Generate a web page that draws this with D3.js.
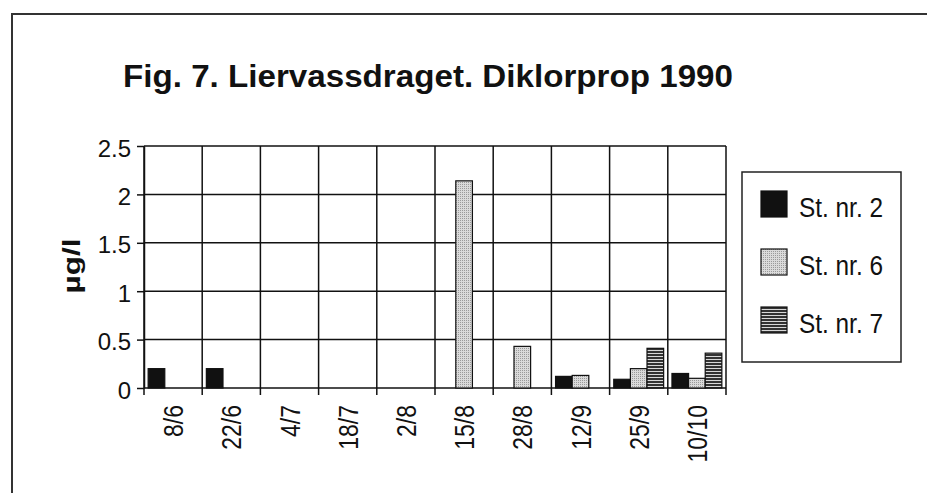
<!DOCTYPE html>
<html>
<head>
<meta charset="utf-8">
<script src="https://cdnjs.cloudflare.com/ajax/libs/d3/7.8.5/d3.min.js"></script>
<style>
  body { margin: 0; background: #fff; }
  text { font-family: "Liberation Sans", Arial, sans-serif; fill: #111; }
</style>
</head>
<body>
<div id="chart"></div>
<script>
var width = 927,
    height = 493;

// data
var dates = ["8/6", "22/6", "4/7", "18/7", "2/8", "15/8", "28/8", "12/9", "25/9", "10/10"];
var stations = ["St. nr. 2", "St. nr. 6", "St. nr. 7"];
var st2 = [0.2, 0.2, null, null, null, null, null, 0.12, 0.09, 0.15];
var st6 = [null, null, null, null, null, 2.14, 0.43, 0.13, 0.2, 0.1];
var st7 = [null, null, null, null, null, null, null, null, 0.41, 0.36];
var yTicks = [0, 0.5, 1, 1.5, 2, 2.5];

var series = [st2, st6, st7];

var svg = d3.select("#chart").append("svg")
    .attr("width", width)
    .attr("height", height);

// fills
var defs = svg.append("defs");
var p6 = defs.append("pattern").attr("id", "dots")
    .attr("width", 2).attr("height", 2)
    .attr("patternUnits", "userSpaceOnUse");
p6.append("rect").attr("width", 2).attr("height", 2).attr("fill", "#dadada");
p6.append("rect").attr("width", 1).attr("height", 1).attr("fill", "#9a9a9a");
var p7 = defs.append("pattern").attr("id", "stripes")
    .attr("width", 4).attr("height", 3)
    .attr("patternUnits", "userSpaceOnUse");
p7.append("rect").attr("width", 4).attr("height", 3).attr("fill", "#333");
p7.append("rect").attr("y", 2).attr("width", 4).attr("height", 1).attr("fill", "#d8d8d8");
var fills = ["#111", "url(#dots)", "url(#stripes)"];

// outer frame
svg.append("path")
    .attr("d", "M12,493 L12,14 L927,14")
    .attr("fill", "none")
    .attr("stroke", "#333")
    .attr("stroke-width", 2);

// title
svg.append("text")
    .attr("x", 123)
    .attr("y", 87)
    .attr("font-size", 31)
    .attr("font-weight", "bold")
    .attr("textLength", 610)
    .attr("lengthAdjust", "spacingAndGlyphs")
    .text("Fig. 7. Liervassdraget. Diklorprop 1990");

var plotLeft = 144, plotRight = 726, plotTop = 146, plotBottom = 388;

var x = d3.scaleBand()
    .domain(dates)
    .range([plotLeft, plotRight])
    .padding(0);
var x1 = d3.scaleBand()
    .domain(d3.range(series.length))
    .range([0, x.bandwidth()])
    .paddingInner(0)
    .paddingOuter(0.25);
var y = d3.scaleLinear()
    .domain([0, 2.5])
    .range([plotBottom, plotTop]);

// horizontal grid
svg.selectAll(".hgrid")
    .data(yTicks)
    .enter().append("line")
    .attr("x1", plotLeft)
    .attr("x2", plotRight)
    .attr("y1", function (d) { return y(d); })
    .attr("y2", function (d) { return y(d); })
    .attr("stroke", "#111")
    .attr("stroke-width", 1.5);

// vertical grid + ticks at category boundaries
var bounds = dates.map(function (d) { return x(d); }).concat([plotRight]);
svg.selectAll(".vgrid")
    .data(bounds)
    .enter().append("line")
    .attr("x1", function (d) { return d; })
    .attr("x2", function (d) { return d; })
    .attr("y1", plotTop)
    .attr("y2", plotBottom + 7)
    .attr("stroke", "#111")
    .attr("stroke-width", 1.5);

// y axis
var yAxis = svg.append("g")
    .attr("transform", "translate(" + plotLeft + ",0)")
    .call(d3.axisLeft(y).tickValues(yTicks).tickSize(7).tickSizeOuter(0).tickPadding(6)
        .tickFormat(function (d) { return d; }));
yAxis.select(".domain").attr("stroke", "#111").attr("stroke-width", 1.5);
yAxis.selectAll(".tick line").attr("stroke", "#111").attr("stroke-width", 1.5);
yAxis.selectAll(".tick text")
    .attr("font-size", 24)
    .attr("font-family", "Liberation Sans, Arial, sans-serif")
    .attr("fill", "#111")
    .attr("dy", "0.42em");

// y label
svg.append("text")
    .attr("transform", "translate(80,266) rotate(-90)")
    .attr("text-anchor", "middle")
    .attr("font-size", 24)
    .attr("font-weight", "bold")
    .attr("textLength", 55)
    .attr("lengthAdjust", "spacingAndGlyphs")
    .text("µg/l");

// x labels
svg.selectAll(".xlab")
    .data(dates)
    .enter().append("text")
    .attr("transform", function (d) {
        return "translate(" + (x(d) + x.bandwidth() / 2 + 10) + ",405) rotate(-90) scale(0.85,1)";
    })
    .attr("text-anchor", "end")
    .attr("font-size", 27)
    .text(function (d) { return d; });

// bars
series.forEach(function (vals, si) {
    svg.selectAll(".bar" + si)
        .data(dates.filter(function (d, i) { return vals[i] != null; }))
        .enter().append("rect")
        .attr("x", function (d) { return x(d) + x1(si); })
        .attr("y", function (d) { return y(vals[dates.indexOf(d)]); })
        .attr("width", x1.bandwidth())
        .attr("height", function (d) { return plotBottom - y(vals[dates.indexOf(d)]); })
        .attr("fill", fills[si])
        .attr("stroke", "#111")
        .attr("stroke-width", 1.2);
});

// legend
var lg = svg.append("g");
lg.append("rect")
    .attr("x", 742).attr("y", 172)
    .attr("width", 159).attr("height", 190)
    .attr("fill", "none")
    .attr("stroke", "#222")
    .attr("stroke-width", 1.5);
var items = lg.selectAll(".item")
    .data(stations)
    .enter().append("g")
    .attr("transform", function (d, i) { return "translate(761," + (191 + i * 58) + ")"; });
items.append("rect")
    .attr("width", 26).attr("height", 26)
    .attr("fill", function (d, i) { return fills[i]; })
    .attr("stroke", "#111")
    .attr("stroke-width", 1.2);
items.append("text")
    .attr("x", 38)
    .attr("y", 26)
    .attr("font-size", 27)
    .attr("textLength", 84)
    .attr("lengthAdjust", "spacingAndGlyphs")
    .text(function (d) { return d; });
</script>
</body>
</html>
